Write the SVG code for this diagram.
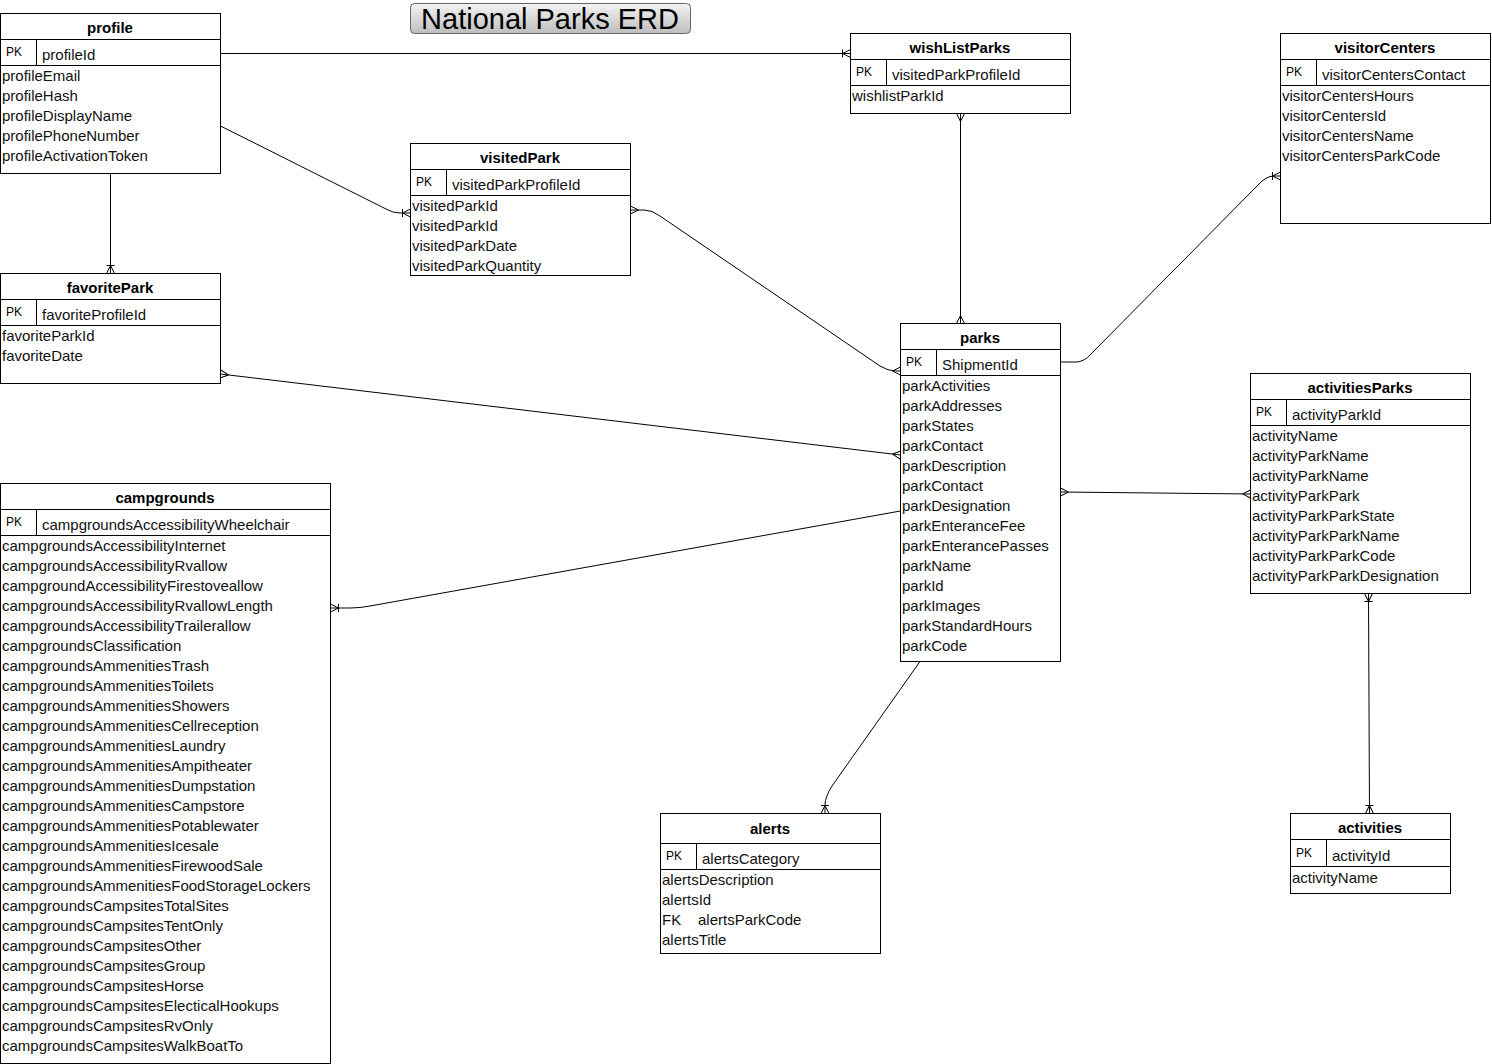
<svg xmlns="http://www.w3.org/2000/svg" width="1492" height="1064" viewBox="0 0 1492 1064">
<style>
.box{fill:#fff;stroke:#000;stroke-width:1}
.ln{fill:none;stroke:#000;stroke-width:1}
.h{font-family:"Liberation Sans",Arial,sans-serif;font-size:15px;font-weight:bold;text-anchor:middle;fill:#000}
.a{font-family:"Liberation Sans",Arial,sans-serif;font-size:15px;fill:#111}
.pk{font-family:"Liberation Sans",Arial,sans-serif;font-size:12px;fill:#000}
.e{fill:none;stroke:#000;stroke-width:1}
.ttl{font-family:"Liberation Sans",Arial,sans-serif;font-size:29px;text-anchor:middle;fill:#000}
</style>
<defs>
<linearGradient id="tg" x1="0" y1="0" x2="0" y2="1">
<stop offset="0" stop-color="#f4f4f4"/>
<stop offset="1" stop-color="#bdbdbd"/>
</linearGradient>
<marker id="many" markerWidth="12" markerHeight="12" refX="10" refY="6" orient="auto-start-reverse" markerUnits="userSpaceOnUse" viewBox="0 0 12 12">
<path d="M2,6 L10,2 M2,6 L10,10" fill="none" stroke="#000" stroke-width="1"/>
</marker>
<marker id="oneMany" markerWidth="12" markerHeight="12" refX="10" refY="6" orient="auto-start-reverse" markerUnits="userSpaceOnUse" viewBox="0 0 12 12">
<path d="M2,6 L10,2 M2,6 L10,10 M2,2 V10" fill="none" stroke="#000" stroke-width="1"/>
</marker>
</defs>
<rect x="0" y="0" width="1492" height="1064" fill="#fff"/>

<g id="title">
<rect x="410.5" y="3.5" width="280" height="30" rx="4" fill="url(#tg)" stroke="#666"/>
<text class="ttl" x="550" y="29">National Parks ERD</text>
</g>

<g id="connectors">
<path class="e" d="M220.5,53.5 H850.5" marker-end="url(#oneMany)"/>
<path class="e" d="M220.5,126 L386,209 Q393,213 400,213 L410.5,213" marker-end="url(#oneMany)"/>
<path class="e" d="M630.5,210 L644,210 Q652,210 660,216 L880,366 Q888,371 896,371 L900.5,371" marker-start="url(#many)" marker-end="url(#many)"/>
<path class="e" d="M960.5,113.5 V323.5" marker-start="url(#many)" marker-end="url(#many)"/>
<path class="e" d="M1060.5,362 H1076 Q1084,362 1091,354 L1258,185 Q1266,176 1274,176 L1280.5,176" marker-end="url(#oneMany)"/>
<path class="e" d="M110.5,173.5 V273.5" marker-end="url(#oneMany)"/>
<path class="e" d="M220.5,374 L900.5,455" marker-start="url(#many)" marker-end="url(#many)"/>
<path class="e" d="M330.5,608 H350 Q360,608 370,606 L900.5,511" marker-start="url(#oneMany)"/>
<path class="e" d="M1060.5,492 L1250.5,494" marker-start="url(#many)" marker-end="url(#many)"/>
<path class="e" d="M920,661.5 L832,786 Q825,797 825,805 L825,813.5" marker-end="url(#oneMany)"/>
<path class="e" d="M1368.5,593.5 L1369.5,813.5" marker-start="url(#oneMany)" marker-end="url(#oneMany)"/>
</g>

<g id="profile">
<rect class="box" x="0.5" y="13.5" width="220" height="160"/>
<path class="ln" d="M0.5,39.5H220.5M0.5,65.5H220.5M36.5,39.5V65.5"/>
<text class="h" x="110" y="33">profile</text>
<text class="pk" x="6" y="56">PK</text>
<text class="a" x="42" y="60">profileId</text>
<text class="a" x="2" y="81">profileEmail</text>
<text class="a" x="2" y="101">profileHash</text>
<text class="a" x="2" y="121">profileDisplayName</text>
<text class="a" x="2" y="141">profilePhoneNumber</text>
<text class="a" x="2" y="161">profileActivationToken</text>
</g>

<g id="visitedPark">
<rect class="box" x="410.5" y="143.5" width="220" height="132"/>
<path class="ln" d="M410.5,169.5H630.5M410.5,195.5H630.5M446.5,169.5V195.5"/>
<text class="h" x="520" y="163">visitedPark</text>
<text class="pk" x="416" y="186">PK</text>
<text class="a" x="452" y="190">visitedParkProfileId</text>
<text class="a" x="412" y="211">visitedParkId</text>
<text class="a" x="412" y="231">visitedParkId</text>
<text class="a" x="412" y="251">visitedParkDate</text>
<text class="a" x="412" y="271">visitedParkQuantity</text>
</g>

<g id="wishListParks">
<rect class="box" x="850.5" y="33.5" width="220" height="80"/>
<path class="ln" d="M850.5,59.5H1070.5M850.5,85.5H1070.5M886.5,59.5V85.5"/>
<text class="h" x="960" y="53">wishListParks</text>
<text class="pk" x="856" y="76">PK</text>
<text class="a" x="892" y="80">visitedParkProfileId</text>
<text class="a" x="852" y="101">wishlistParkId</text>
</g>

<g id="visitorCenters">
<rect class="box" x="1280.5" y="33.5" width="210" height="190"/>
<path class="ln" d="M1280.5,59.5H1490.5M1280.5,85.5H1490.5M1316.5,59.5V85.5"/>
<text class="h" x="1385" y="53">visitorCenters</text>
<text class="pk" x="1286" y="76">PK</text>
<text class="a" x="1322" y="80">visitorCentersContact</text>
<text class="a" x="1282" y="101">visitorCentersHours</text>
<text class="a" x="1282" y="121">visitorCentersId</text>
<text class="a" x="1282" y="141">visitorCentersName</text>
<text class="a" x="1282" y="161">visitorCentersParkCode</text>
</g>

<g id="favoritePark">
<rect class="box" x="0.5" y="273.5" width="220" height="110"/>
<path class="ln" d="M0.5,299.5H220.5M0.5,325.5H220.5M36.5,299.5V325.5"/>
<text class="h" x="110" y="293">favoritePark</text>
<text class="pk" x="6" y="316">PK</text>
<text class="a" x="42" y="320">favoriteProfileId</text>
<text class="a" x="2" y="341">favoriteParkId</text>
<text class="a" x="2" y="361">favoriteDate</text>
</g>

<g id="parks">
<rect class="box" x="900.5" y="323.5" width="160" height="338"/>
<path class="ln" d="M900.5,349.5H1060.5M900.5,375.5H1060.5M936.5,349.5V375.5"/>
<text class="h" x="980" y="343">parks</text>
<text class="pk" x="906" y="366">PK</text>
<text class="a" x="942" y="370">ShipmentId</text>
<text class="a" x="902" y="391">parkActivities</text>
<text class="a" x="902" y="411">parkAddresses</text>
<text class="a" x="902" y="431">parkStates</text>
<text class="a" x="902" y="451">parkContact</text>
<text class="a" x="902" y="471">parkDescription</text>
<text class="a" x="902" y="491">parkContact</text>
<text class="a" x="902" y="511">parkDesignation</text>
<text class="a" x="902" y="531">parkEnteranceFee</text>
<text class="a" x="902" y="551">parkEnterancePasses</text>
<text class="a" x="902" y="571">parkName</text>
<text class="a" x="902" y="591">parkId</text>
<text class="a" x="902" y="611">parkImages</text>
<text class="a" x="902" y="631">parkStandardHours</text>
<text class="a" x="902" y="651">parkCode</text>
</g>

<g id="activitiesParks">
<rect class="box" x="1250.5" y="373.5" width="220" height="220"/>
<path class="ln" d="M1250.5,399.5H1470.5M1250.5,425.5H1470.5M1286.5,399.5V425.5"/>
<text class="h" x="1360" y="393">activitiesParks</text>
<text class="pk" x="1256" y="416">PK</text>
<text class="a" x="1292" y="420">activityParkId</text>
<text class="a" x="1252" y="441">activityName</text>
<text class="a" x="1252" y="461">activityParkName</text>
<text class="a" x="1252" y="481">activityParkName</text>
<text class="a" x="1252" y="501">activityParkPark</text>
<text class="a" x="1252" y="521">activityParkParkState</text>
<text class="a" x="1252" y="541">activityParkParkName</text>
<text class="a" x="1252" y="561">activityParkParkCode</text>
<text class="a" x="1252" y="581">activityParkParkDesignation</text>
</g>

<g id="campgrounds">
<rect class="box" x="0.5" y="483.5" width="330" height="580"/>
<path class="ln" d="M0.5,509.5H330.5M0.5,535.5H330.5M36.5,509.5V535.5"/>
<text class="h" x="165" y="503">campgrounds</text>
<text class="pk" x="6" y="526">PK</text>
<text class="a" x="42" y="530">campgroundsAccessibilityWheelchair</text>
<text class="a" x="2" y="551">campgroundsAccessibilityInternet</text>
<text class="a" x="2" y="571">campgroundsAccessibilityRvallow</text>
<text class="a" x="2" y="591">campgroundAccessibilityFirestoveallow</text>
<text class="a" x="2" y="611">campgroundsAccessibilityRvallowLength</text>
<text class="a" x="2" y="631">campgroundsAccessibilityTrailerallow</text>
<text class="a" x="2" y="651">campgroundsClassification</text>
<text class="a" x="2" y="671">campgroundsAmmenitiesTrash</text>
<text class="a" x="2" y="691">campgroundsAmmenitiesToilets</text>
<text class="a" x="2" y="711">campgroundsAmmenitiesShowers</text>
<text class="a" x="2" y="731">campgroundsAmmenitiesCellreception</text>
<text class="a" x="2" y="751">campgroundsAmmenitiesLaundry</text>
<text class="a" x="2" y="771">campgroundsAmmenitiesAmpitheater</text>
<text class="a" x="2" y="791">campgroundsAmmenitiesDumpstation</text>
<text class="a" x="2" y="811">campgroundsAmmenitiesCampstore</text>
<text class="a" x="2" y="831">campgroundsAmmenitiesPotablewater</text>
<text class="a" x="2" y="851">campgroundsAmmenitiesIcesale</text>
<text class="a" x="2" y="871">campgroundsAmmenitiesFirewoodSale</text>
<text class="a" x="2" y="891">campgroundsAmmenitiesFoodStorageLockers</text>
<text class="a" x="2" y="911">campgroundsCampsitesTotalSites</text>
<text class="a" x="2" y="931">campgroundsCampsitesTentOnly</text>
<text class="a" x="2" y="951">campgroundsCampsitesOther</text>
<text class="a" x="2" y="971">campgroundsCampsitesGroup</text>
<text class="a" x="2" y="991">campgroundsCampsitesHorse</text>
<text class="a" x="2" y="1011">campgroundsCampsitesElecticalHookups</text>
<text class="a" x="2" y="1031">campgroundsCampsitesRvOnly</text>
<text class="a" x="2" y="1051">campgroundsCampsitesWalkBoatTo</text>
</g>

<g id="alerts">
<rect class="box" x="660.5" y="813.5" width="220" height="140"/>
<path class="ln" d="M660.5,843.5H880.5M660.5,869.5H880.5M696.5,843.5V869.5"/>
<text class="h" x="770" y="834">alerts</text>
<text class="pk" x="666" y="860">PK</text>
<text class="a" x="702" y="864">alertsCategory</text>
<text class="a" x="662" y="885">alertsDescription</text>
<text class="a" x="662" y="905">alertsId</text>
<text class="a" x="662" y="925">FK</text>
<text class="a" x="698" y="925">alertsParkCode</text>
<text class="a" x="662" y="945">alertsTitle</text>
</g>

<g id="activities">
<rect class="box" x="1290.5" y="813.5" width="160" height="80"/>
<path class="ln" d="M1290.5,839.5H1450.5M1290.5,866.5H1450.5M1326.5,839.5V866.5"/>
<text class="h" x="1370" y="833">activities</text>
<text class="pk" x="1296" y="857">PK</text>
<text class="a" x="1332" y="861">activityId</text>
<text class="a" x="1292" y="883">activityName</text>
</g>
</svg>
